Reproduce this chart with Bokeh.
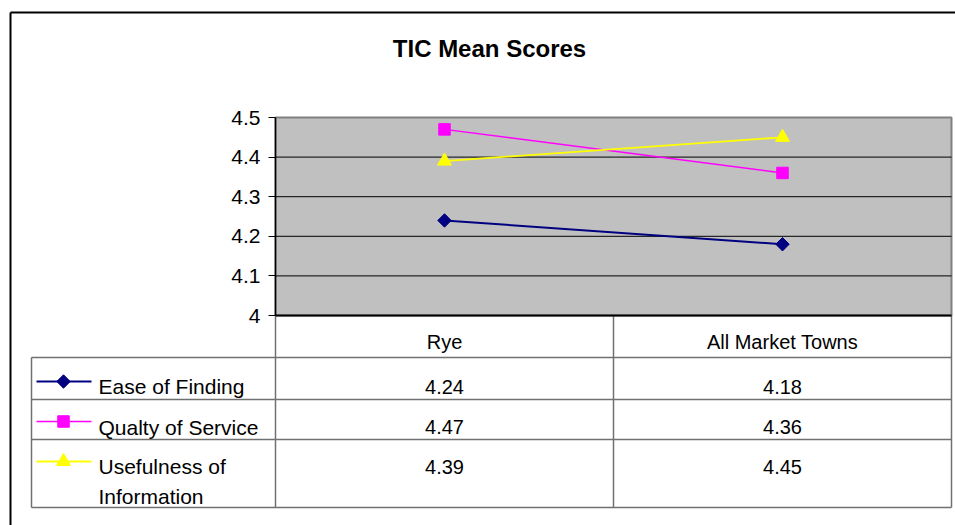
from bokeh.plotting import figure
from bokeh.models import Range1d, LinearAxis, FixedTicker, NumeralTickFormatter
from bokeh.core.properties import value
from bokeh.embed import file_html
from bokeh.resources import INLINE
import math

# ---------------- data ----------------
title_text = "TIC Mean Scores"
categories = ["Rye", "All Market Towns"]
series_names = ["Ease of Finding", "Qualty of Service", "Usefulness of\nInformation"]
ease_of_finding = [4.24, 4.18]
quality_of_service = [4.47, 4.36]
usefulness_of_information = [4.39, 4.45]
y_ticks = [4.0, 4.1, 4.2, 4.3, 4.4, 4.5]

series_values = [ease_of_finding, quality_of_service, usefulness_of_information]

# ---------------- styles ----------------
FONT = value("Liberation Sans")
series_colors = ["#000080", "#FF00FF", "#FFFF00"]
series_markers = ["square", "square", "triangle"]
series_angles = [math.pi / 4, 0.0, 0.0]
series_sizes = [9.5, 11.5, 14]
series_widths = [2, 1.5, 1.8]
TABLE_LINE = "#707070"

# ---------------- layout (pixels) ----------------
PAGE_L, PAGE_T = 0, 0
W, H = 955, 525
PAGE_R, PAGE_B = PAGE_L + W, PAGE_T + H
PLOT_L, PLOT_R, PLOT_T, PLOT_B = 275, 951, 117, 315
TABLE_L = 31
ROW_LINES = [357, 399, 439, 507]
HEADER_BASE = 341
ROW_BASES = [386, 426.5, 466]
LINE_STEP = 30
KEY_Y = [381, 421, 461]
KEY_X0, KEY_X1, KEY_XM = 36, 91, 63
LABEL_X = 98
TITLE_X, TITLE_BASE = 489, 48

p = figure(width=W, height=H, x_range=Range1d(PAGE_L, PAGE_R), y_range=Range1d(PAGE_B, PAGE_T),
           x_axis_type=None, y_axis_type=None, output_backend="svg", toolbar_location=None,
           min_border=0, outline_line_color=None,
           background_fill_color="white", border_fill_color="white")

# value / category scales for the chart part
ymin, ymax = y_ticks[0], y_ticks[-1]
v_per_px = (ymax - ymin) / (PLOT_B - PLOT_T)
n = len(categories)
c_per_px = n / (PLOT_R - PLOT_L)
p.extra_y_ranges = {"val": Range1d(ymin - (PAGE_B - PLOT_B) * v_per_px, ymax + (PLOT_T - PAGE_T) * v_per_px)}
p.extra_x_ranges = {"cat": Range1d(-(PLOT_L - PAGE_L) * c_per_px, n + (PAGE_R - PLOT_R) * c_per_px)}
centers = [i + 0.5 for i in range(n)]

# outer border
p.segment(x0=[10, 10], y0=[12, 12], x1=[10, PAGE_R + 5], y1=[PAGE_B + 5, 12],
          line_color="black", line_width=2)

# title
p.text(x=[TITLE_X], y=[TITLE_BASE], text=[title_text], text_font=FONT, text_font_size="24px",
       text_font_style="bold", text_align="center", text_baseline="alphabetic", text_color="black")

# plot area
p.quad(left=0, right=n, bottom=ymin, top=ymax, x_range_name="cat", y_range_name="val",
       fill_color="#C0C0C0", line_color="#808080", line_width=2)
inner = y_ticks[1:-1]
p.segment(x0=[0] * len(inner), x1=[n] * len(inner), y0=inner, y1=inner,
          x_range_name="cat", y_range_name="val", line_color="black", line_width=1)

# table lines
p.segment(x0=[TABLE_L] * len(ROW_LINES), x1=[PLOT_R] * len(ROW_LINES), y0=ROW_LINES, y1=ROW_LINES,
          line_color=TABLE_LINE, line_width=1.5)
p.segment(x0=[TABLE_L], x1=[TABLE_L], y0=[ROW_LINES[0]], y1=[ROW_LINES[-1]],
          line_color=TABLE_LINE, line_width=1.5)
p.segment(x0=list(range(n + 1)), x1=list(range(n + 1)), y0=[PLOT_B] * (n + 1), y1=[ROW_LINES[-1]] * (n + 1),
          x_range_name="cat", line_color=TABLE_LINE, line_width=1.5)

# bottom axis line of plot
p.segment(x0=[0], x1=[n], y0=[ymin], y1=[ymin], x_range_name="cat", y_range_name="val",
          line_color="black", line_width=2)

# series
for vals, col, mk, ang, sz, lw in zip(series_values, series_colors, series_markers,
                                      series_angles, series_sizes, series_widths):
    p.line(centers, vals, x_range_name="cat", y_range_name="val", line_color=col, line_width=lw)
    p.scatter(centers, vals, x_range_name="cat", y_range_name="val", marker=mk, angle=ang,
              size=sz, fill_color=col, line_color=col)

# table header
p.text(x=centers, y=[HEADER_BASE] * n, text=categories, x_range_name="cat", text_font=FONT,
       text_font_size="20px", text_align="center", text_baseline="alphabetic", text_color="black")

# table rows
for r, (name, vals, col, mk, ang, sz, lw) in enumerate(zip(series_names, series_values, series_colors,
                                                           series_markers, series_angles, series_sizes,
                                                           series_widths)):
    p.text(x=centers, y=[ROW_BASES[r]] * n, text=[f"{v:.2f}" for v in vals], x_range_name="cat",
           text_font=FONT, text_font_size="20px", text_align="center", text_baseline="alphabetic",
           text_color="black")
    lines = name.split("\n")
    p.text(x=[LABEL_X] * len(lines), y=[ROW_BASES[r] + k * LINE_STEP for k in range(len(lines))],
           text=lines, text_font=FONT, text_font_size="21px", text_align="left",
           text_baseline="alphabetic", text_color="black")
    p.segment(x0=[KEY_X0], x1=[KEY_X1], y0=[KEY_Y[r]], y1=[KEY_Y[r]], line_color=col, line_width=lw)
    p.scatter([KEY_XM], [KEY_Y[r]], marker=mk, angle=ang, size=sz, fill_color=col, line_color=col)

# y axis (fixed at the left edge of the plot area)
yaxis = LinearAxis(x_range_name="cat", y_range_name="val", fixed_location=0, bounds=(ymin, ymax),
                   ticker=FixedTicker(ticks=y_ticks), formatter=NumeralTickFormatter(format="0.[0]"))
yaxis.axis_line_color = "black"
yaxis.axis_line_width = 1.5
yaxis.major_tick_line_color = "black"
yaxis.major_tick_out = 7
yaxis.major_tick_in = 0
yaxis.minor_tick_line_color = None
yaxis.major_label_standoff = 8
yaxis.major_label_text_font = "Liberation Sans"
yaxis.major_label_text_font_size = "21px"
yaxis.major_label_text_color = "black"
p.add_layout(yaxis, "left")

open("out.html", "w").write(file_html(p, INLINE))
